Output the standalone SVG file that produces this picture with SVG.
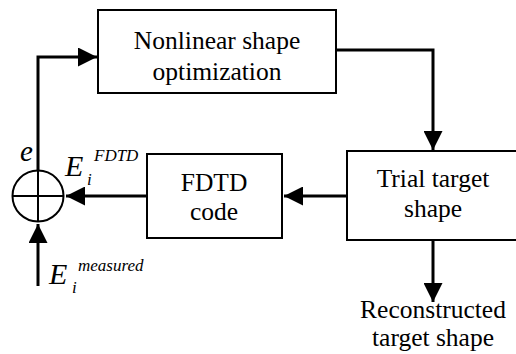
<svg xmlns="http://www.w3.org/2000/svg" width="516" height="354" viewBox="0 0 516 354">
<style>
.box{fill:#fff;stroke:#000;stroke-width:2}
.t{font-family:"Liberation Serif","Times New Roman",serif;font-size:25.5px;text-anchor:middle;fill:#000}
.m{font-family:"Liberation Serif","Times New Roman",serif;font-style:italic;fill:#000}
.c{fill:none;stroke:#000;stroke-width:3}
</style>
<defs>
<marker id="ah" viewBox="0 0 10 10" refX="10" refY="5" markerWidth="19" markerHeight="19" markerUnits="userSpaceOnUse" orient="auto">
<path d="M0,0 L10,5 L0,10 Z" fill="#000"/>
</marker>
</defs>
<g id="connectors">
<polyline class="c" points="38,170 38,57 97,57" marker-end="url(#ah)"/>
<polyline class="c" points="336,50 433,50 433,150" marker-end="url(#ah)"/>
<line class="c" x1="347" y1="196" x2="284" y2="196" marker-end="url(#ah)"/>
<line class="c" x1="147" y1="196" x2="66" y2="196" marker-end="url(#ah)"/>
<line class="c" x1="38" y1="286" x2="38" y2="224" marker-end="url(#ah)"/>
<line class="c" x1="433" y1="240" x2="433" y2="302" marker-end="url(#ah)"/>
</g>
<g id="optim">
<rect class="box" x="98" y="10" width="238" height="83"/>
<text class="t" x="217" y="49">Nonlinear shape</text>
<text class="t" x="217" y="80">optimization</text>
</g>
<g id="trial">
<rect class="box" x="347" y="151" width="172" height="89"/>
<text class="t" x="433" y="187">Trial target</text>
<text class="t" x="433" y="217">shape</text>
</g>
<g id="fdtd">
<rect class="box" x="147" y="154" width="135" height="84"/>
<text class="t" x="214" y="191">FDTD</text>
<text class="t" x="214" y="220">code</text>
</g>
<g id="sum">
<circle cx="38" cy="196" r="25.5" fill="#fff" stroke="#000" stroke-width="2"/>
<line x1="12.5" y1="196" x2="63.5" y2="196" stroke="#000" stroke-width="2"/>
<line x1="38" y1="170.5" x2="38" y2="221.5" stroke="#000" stroke-width="2"/>
</g>
<g id="output">
<text class="t" x="433" y="318">Reconstructed</text>
<text class="t" x="433" y="346">target shape</text>
</g>
<g id="labels">
<text class="m" x="20" y="161" font-size="29">e</text>
<text class="m" x="65" y="176" font-size="30">E</text>
<text class="m" x="87" y="185" font-size="17">i</text>
<text class="m" x="94" y="161" font-size="17">FDTD</text>
<text class="m" x="49" y="284" font-size="30">E</text>
<text class="m" x="72" y="293" font-size="17">i</text>
<text class="m" x="78" y="271" font-size="17">measured</text>
</g>
</svg>
